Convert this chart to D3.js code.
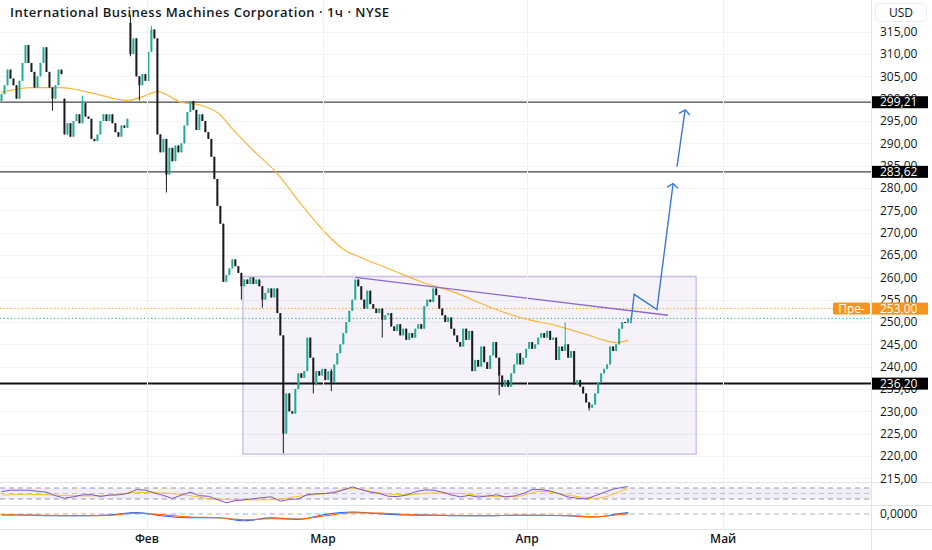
<!DOCTYPE html>
<html><head><meta charset="utf-8">
<script src="https://cdn.jsdelivr.net/npm/d3@7"></script>
<style>body{margin:0;background:#fff}svg{display:block;font-family:"Open Sans","Noto Sans",sans-serif}</style>
</head><body><svg id="c" width="932" height="550"></svg>
<script>
// ---------------- DATA ----------------
const title = "International Business Machines Corporation · 1ч · NYSE";
const currency = "USD";
// candle closes (one per candle)
const closes = [
301,303,306.5,304.5,303,300,304,308,312,308,
306,302.5,305,308,311.5,306,302.5,300,303,306.5,
305.5,292,294.5,291.5,295,296.5,294.5,299,296,295.5,
291,290.5,292,295,296.5,295,296.5,294.5,292.5,291.5,
294,293.5,295.5,310,313.5,305,303,305.5,304,310.5,
315.5,313.5,292,288,291,283,289,286,289.5,288,
290,294,297,299.5,297.5,293,296.5,295,292.5,291,
287,282,276,272,259,260.5,262,264,262.5,261,
258,259.5,258.5,260,258.5,259.5,258,255,256.5,257.5,
255.5,257.5,252,247,225,234,230,229.5,235,238.5,
237.5,239,246.5,242,236,239,238,239.5,237,239,
236.5,240.5,243,245,247.5,250,252.5,255,259.5,258,
255,253,257,254,253,252,253,250.5,251.5,252,
249,248,249.5,247,248.5,246,247.5,246.5,248.5,249.5,
248.5,253.5,255,254.5,257.5,256,253,251.5,250,251,
248.5,247,245.5,244.5,248.5,246,248,239,241.5,240,
244.5,241,239.5,242.5,245.5,242,238,235.5,237,235.5,
238.5,240.5,243,240.5,242,244,245.5,244,245,246.5,
247.5,246.5,248,246,246.5,241.5,244.5,243.5,245,242,
243.5,236,237,235.5,234,232,230.8,231.5,234,236.5,
238.5,239.5,240.5,244.5,243.5,245,248.5,250,249.8,250.8
];
const firstOpen = 299.5;
// candles that opened with a gap: [candle index, open]
const gapOpens = [[21,300],[43,317]];
// notable wicks: [candle index, high, low]
const wicks = [[17,301,297.3],[27,300.7,294.5],[43,318.7,309.5],[46,305,299.6],[50,316.3,310.5],
  [55,291,279],[80,261,255],[87,258,253.2],[94,247,220.6],[104,242,234],[110,239.5,234.5],
  [127,253,246.5],[166,242,233.6],[188,249.9,243.5],[196,232,230.2]];
// moving average (orange) read at candle indices
const maIdx = [0,10,20,30,42,48,52,60,66,72,78,84,92,100,108,114,120,130,140,152,163,174,185,196,201,205,209];
const maVal = [301.4,302.5,302.5,301.3,299.6,300.7,301.6,299.2,298.6,296.9,292.5,288.4,283.2,276.3,270.0,266.3,264.4,261.7,259.0,256.4,253.3,250.8,249.2,247.0,245.9,245.4,245.9];
// RSI every 3 candles (+ last)
const rsiVals = [57,62,62,62,58,55,42,33,38,45,46,39,44,45,50,64,62,52,43,32,44,55,42,40,28,16,24,27,31,35,
  38,22,29,30,46,49,50,53,63,74,64,55,50,40,39,44,56,63,62,55,45,38,43,37,41,45,38,41,50,64,
  64,59,49,37,33,30,42,54,66,72,75];
// RSI moving average, MACD and signal every 9 candles (+ last)
const rsiMa = [44,47,44,41,44,54,52,42,28,27,27,40,50,68,52,45,52,50,40,38,58,44,32,60,68];
const macdVals = [-0.7,-0.7,-1.2,-1.2,-0.7,0.9,-1.3,-2.5,-2.5,-4.5,-2.6,-3.6,-0.3,1.3,0.2,-0.6,-0.8,-1.2,-1.2,-0.8,-0.8,-1.2,-2.0,0.5,0.9];
const signalVals = [-0.5,-0.7,-1.0,-1.2,-0.9,0.5,-0.6,-2.0,-2.5,-3.8,-3.2,-3.3,-1.2,0.8,0.6,-0.3,-0.7,-1.0,-1.2,-0.9,-0.8,-1.1,-1.8,-0.3,0.2];
// price axis ticks
const priceTicks = [215,220,225,230,235,240,245,250,255,260,265,270,275,280,285,290,295,300,305,310,315];
// month labels at candle index where month starts
const monthLabels = ["Фев","Мар","Апр","Май"];
const monthIdx = [48.5,107.2,175.3,240.7];
// horizontal levels
const levels = [299.21,283.62,236.20];
const preMarket = 253.00;
const preLabel = "Пре-";
// drawings: range box [idx0, idx1, priceTop, priceBottom], trendline, projection path
const rangeBox = [80.5,231.7,260.2,220.4];
const trendLine = [[118,260.0],[222.3,251.5]];
const projPath = [[209.9,249.7],[211,256.2],[218.6,252.8],[224,281]];
const projArrow2 = [[225.3,284.8],[228,297.5]];

// ---------------- CHART ----------------
const svg = d3.select("#c");
const PR = 871, MAIN_B = 482, RSI_T = 483, RSI_B = 506, MACD_T = 506, MACD_B = 529;
const x = d3.scaleLinear().domain([-0.5,290]).range([0,PR]);
const y = d3.scaleLinear().domain([215,315]).range([478.3,31.7]);
const yR = d3.scaleLinear().domain([30,70]).range([499,488]);
const yM = d3.scaleLinear().domain([-10,5]).range([529,506.5]);
const fmt = v => d3.format(".2f")(v).replace(".",",");

const defs = svg.append("defs");
defs.append("clipPath").attr("id","cm").append("rect").attr("x",0).attr("y",0).attr("width",PR).attr("height",MAIN_B);
defs.append("clipPath").attr("id","cr").append("rect").attr("x",0).attr("y",RSI_T).attr("width",PR).attr("height",RSI_B-RSI_T);
defs.append("clipPath").attr("id","cx").append("rect").attr("x",0).attr("y",MACD_T).attr("width",PR).attr("height",MACD_B-MACD_T);

svg.append("rect").attr("width",932).attr("height",550).attr("fill","#fff");

// grid
const main = svg.append("g").attr("clip-path","url(#cm)");
main.selectAll("line.hg").data(priceTicks).join("line")
  .attr("x1",0).attr("x2",PR).attr("y1",d=>Math.round(y(d))+0.5).attr("y2",d=>Math.round(y(d))+0.5)
  .attr("stroke","#f2f3f6").attr("stroke-width",1);
svg.selectAll("line.vg").data(monthIdx).join("line")
  .attr("x1",d=>Math.round(x(d))+0.5).attr("x2",d=>Math.round(x(d))+0.5).attr("y1",0).attr("y2",MACD_B)
  .attr("stroke","#f0f1f5");

// range box
main.append("rect")
  .attr("x",x(rangeBox[0])).attr("y",y(rangeBox[2]))
  .attr("width",x(rangeBox[1])-x(rangeBox[0])).attr("height",y(rangeBox[3])-y(rangeBox[2]))
  .attr("fill","rgba(126,87,194,0.08)").attr("stroke","rgba(149,117,205,0.4)").attr("stroke-width",1.5);

// levels
main.selectAll("line.lv").data(levels).join("line")
  .attr("x1",0).attr("x2",PR).attr("y1",d=>y(d)).attr("y2",d=>y(d))
  .attr("stroke",(d,i)=>i===2?"#111":"#444").attr("stroke-width",(d,i)=>i===2?2:1.2);

// dotted price lines
const lastClose = closes[closes.length-1];
main.append("line").attr("x1",0).attr("x2",PR).attr("y1",y(preMarket)).attr("y2",y(preMarket))
  .attr("stroke","#ff9800").attr("stroke-dasharray","1.2,2.4").attr("stroke-width",1);
main.append("line").attr("x1",0).attr("x2",PR).attr("y1",y(lastClose)).attr("y2",y(lastClose))
  .attr("stroke","#22ab94").attr("stroke-dasharray","1.2,2.4").attr("stroke-width",1);

// moving average
main.append("path").datum(maIdx.map((d,i)=>[d,maVal[i]]))
  .attr("d",d3.line().x(d=>x(d[0])).y(d=>y(d[1])).curve(d3.curveMonotoneX))
  .attr("fill","none").attr("stroke","#f9b53d").attr("stroke-width",1.2);

// candles
const gapMap = new Map(gapOpens), wickMap = new Map(wicks.map(w=>[w[0],[w[1],w[2]]]));
const candles = closes.map((c,i)=>{
  const o = gapMap.has(i) ? gapMap.get(i) : (i===0 ? firstOpen : closes[i-1]);
  const w = wickMap.get(i);
  const h = Math.max(o,c, w?w[0]:-Infinity), l = Math.min(o,c, w?w[1]:Infinity);
  return {i,o,h,l,c};
});
const cg = main.append("g");
const upC = "#22ab94", dnC = "#1b1b1f";
cg.selectAll("line.w").data(candles).join("line")
  .attr("x1",d=>x(d.i)).attr("x2",d=>x(d.i)).attr("y1",d=>y(d.h)).attr("y2",d=>y(d.l))
  .attr("stroke",d=>d.c>=d.o?upC:dnC).attr("stroke-width",1);
cg.selectAll("rect").data(candles).join("rect")
  .attr("x",d=>x(d.i)-1).attr("width",2)
  .attr("y",d=>y(Math.max(d.o,d.c))).attr("height",d=>Math.max(1,Math.abs(y(d.o)-y(d.c))))
  .attr("fill",d=>d.c>=d.o?upC:dnC);

// trend line
main.append("line").attr("x1",x(trendLine[0][0])).attr("y1",y(trendLine[0][1]))
  .attr("x2",x(trendLine[1][0])).attr("y2",y(trendLine[1][1]))
  .attr("stroke","#8a68cc").attr("stroke-width",1.4);

// projection arrows
const pline = d3.line().x(d=>x(d[0])).y(d=>y(d[1]));
const blue = "#3a78d4";
function arrow(pts){
  main.append("path").attr("d",pline(pts)).attr("fill","none").attr("stroke",blue).attr("stroke-width",1.4).attr("stroke-linejoin","miter");
  const a = pts[pts.length-2], b = pts[pts.length-1];
  const ax=x(a[0]), ay=y(a[1]), bx=x(b[0]), by=y(b[1]);
  const ang = Math.atan2(by-ay,bx-ax), L=7, sp=0.9;
  const p1=[bx-L*Math.cos(ang-sp), by-L*Math.sin(ang-sp)], p2=[bx-L*Math.cos(ang+sp), by-L*Math.sin(ang+sp)];
  main.append("path").attr("d",`M${p1}L${bx},${by}L${p2}`).attr("fill","none").attr("stroke",blue).attr("stroke-width",1.4);
}
arrow(projPath); arrow(projArrow2);

// ---- RSI pane ----
const rp = svg.append("g").attr("clip-path","url(#cr)");
rp.append("rect").attr("x",0).attr("width",PR).attr("y",yR(70)).attr("height",yR(30)-yR(70)).attr("fill","rgba(126,87,194,0.1)");
rp.selectAll("line.b").data([70,50,30]).join("line")
  .attr("x1",0).attr("x2",PR).attr("y1",d=>yR(d)).attr("y2",d=>yR(d))
  .attr("stroke",d=>d===50?"#c3c5cc":"#9a9ca6").attr("stroke-dasharray","5,4");
const rsiIdx = rsiVals.map((v,k)=> k<rsiVals.length-1 ? k*3 : closes.length-1);
const ninIdx = rsiMa.map((v,k)=> k<rsiMa.length-1 ? k*9 : closes.length-1);
rp.append("path").datum(ninIdx.map((d,k)=>[d,rsiMa[k]]))
  .attr("d",d3.line().x(d=>x(d[0])).y(d=>yR(d[1])).curve(d3.curveMonotoneX))
  .attr("fill","none").attr("stroke","#fbc02d").attr("stroke-width",1);
rp.append("path").datum(rsiIdx.map((d,k)=>[d,rsiVals[k]]))
  .attr("d",d3.line().x(d=>x(d[0])).y(d=>yR(d[1])))
  .attr("fill","none").attr("stroke","#7e57c2").attr("stroke-width",1);

// ---- MACD pane ----
const mp = svg.append("g").attr("clip-path","url(#cx)");
mp.append("line").attr("x1",0).attr("x2",PR).attr("y1",yM(0)).attr("y2",yM(0))
  .attr("stroke","#b2b5be").attr("stroke-dasharray","5,4");
mp.selectAll("rect.h").data(ninIdx.map((d,k)=>[d,macdVals[k]-signalVals[k]])).join("rect")
  .attr("x",d=>x(d[0])-1).attr("width",2)
  .attr("y",d=>Math.min(yM(0),yM(d[1]))).attr("height",d=>Math.abs(yM(d[1])-yM(0)))
  .attr("fill",d=>d[1]>=0?"rgba(38,166,154,0.35)":"rgba(255,82,82,0.3)");
mp.append("path").datum(ninIdx.map((d,k)=>[d,macdVals[k]]))
  .attr("d",d3.line().x(d=>x(d[0])).y(d=>yM(d[1])).curve(d3.curveMonotoneX))
  .attr("fill","none").attr("stroke","#2962ff").attr("stroke-width",1.1);
mp.append("path").datum(ninIdx.map((d,k)=>[d,signalVals[k]]))
  .attr("d",d3.line().x(d=>x(d[0])).y(d=>yM(d[1])).curve(d3.curveMonotoneX))
  .attr("fill","none").attr("stroke","#ff6d00").attr("stroke-width",1.1);

// separators and axis line
svg.selectAll("line.sep").data([MAIN_B+0.5,RSI_B-0.5,MACD_B+0.5]).join("line")
  .attr("x1",0).attr("x2",932).attr("y1",d=>d).attr("y2",d=>d).attr("stroke","#e0e3eb");
svg.append("line").attr("x1",PR+0.5).attr("x2",PR+0.5).attr("y1",0).attr("y2",550).attr("stroke","#e0e3eb");

// price axis labels
const ax = svg.append("g").attr("font-size",12).attr("fill","#131722");
ax.selectAll("text.t").data(priceTicks).join("text")
  .attr("x",880).attr("y",d=>y(d)).attr("dy","0.35em").text(fmt);
ax.append("text").attr("x",880).attr("y",yM(0)).attr("dy","0.35em").text("0,0000");

// level labels
levels.forEach(v=>{
  ax.append("rect").attr("x",872).attr("y",y(v)-6).attr("width",56).attr("height",12).attr("fill","#000");
  ax.append("text").attr("x",880).attr("y",y(v)).attr("dy","0.35em").attr("fill","#fff").text(fmt(v));
});
ax.append("rect").attr("x",833).attr("y",y(preMarket)-6).attr("width",37).attr("height",12).attr("rx",1.5).attr("fill","#f7941d");
ax.append("text").attr("x",851.5).attr("y",y(preMarket)).attr("dy","0.35em").attr("text-anchor","middle").attr("fill","#fff").text(preLabel);
ax.append("rect").attr("x",872).attr("y",y(preMarket)-6).attr("width",56).attr("height",12).attr("fill","#f7941d");
ax.append("text").attr("x",880).attr("y",y(preMarket)).attr("dy","0.35em").attr("fill","#fff").text(fmt(preMarket));

// currency box
ax.append("rect").attr("x",875.5).attr("y",3.5).attr("width",51).attr("height",18).attr("rx",4)
  .attr("fill","#fff").attr("stroke","#eceef2");
ax.append("text").attr("x",901).attr("y",12.5).attr("dy","0.35em").attr("text-anchor","middle").text(currency);

// time axis
svg.append("g").selectAll("text").data(monthIdx).join("text")
  .attr("x",d=>x(d)).attr("y",539).attr("dy","0.35em").attr("text-anchor","middle")
  .attr("font-size",12).attr("font-weight",600).attr("fill","#131722").text((d,i)=>monthLabels[i]);

// title
svg.append("text").attr("x",10).attr("y",12).attr("dy","0.35em").attr("font-size",13).attr("font-weight",600)
  .attr("letter-spacing",0.5).attr("fill","#131722").text(title);
</script></body></html>
